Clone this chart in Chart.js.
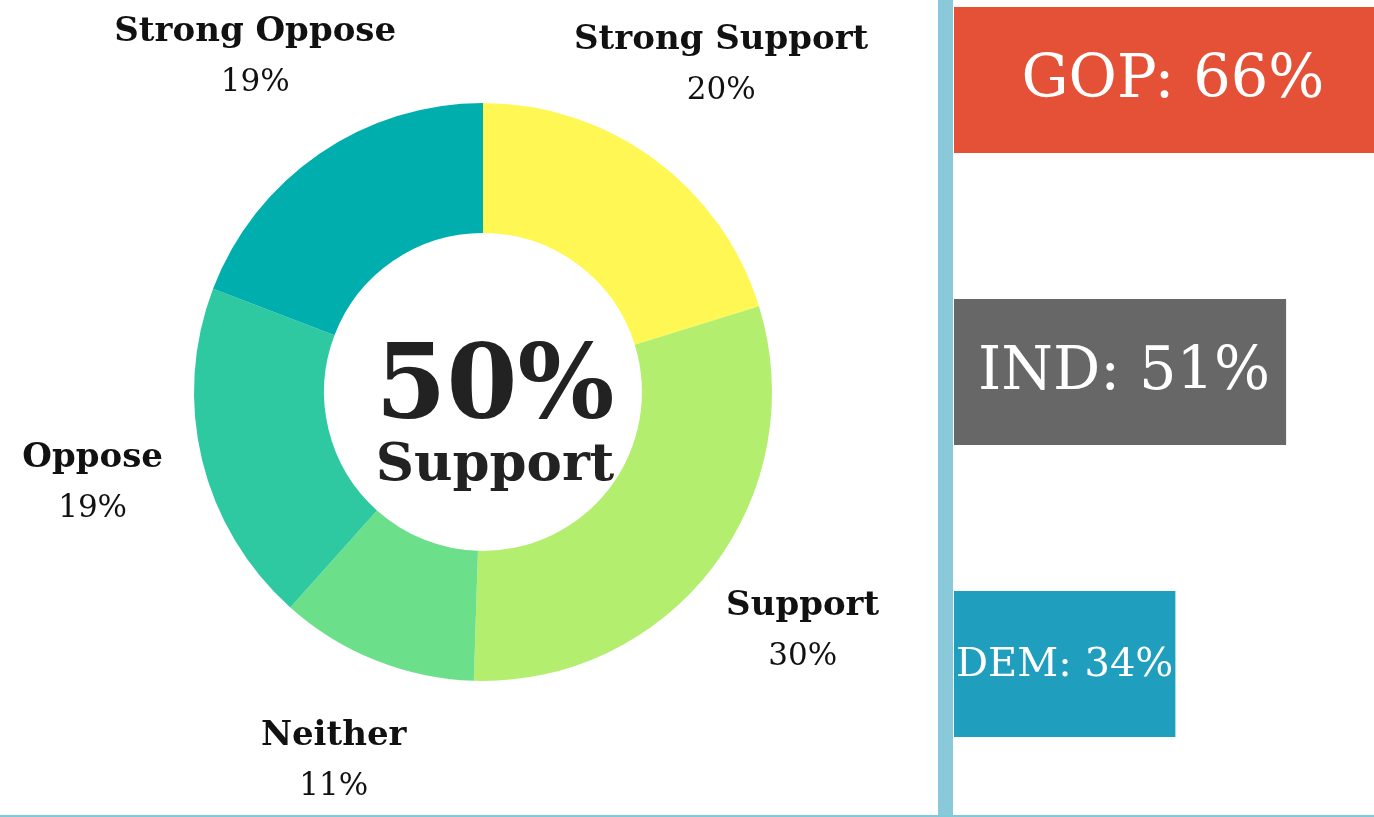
<!DOCTYPE html>
<html>
<head>
<meta charset="utf-8">
<script src="https://cdn.jsdelivr.net/npm/chart.js@4/dist/chart.umd.min.js"></script>
<style>
  html, body { margin: 0; padding: 0; background: #fff; overflow: hidden; }
  body { width: 1374px; height: 817px; position: relative; }
  #donutBox { position: absolute; left: 0; top: 0; width: 938px; height: 817px; }
  #barBox { position: absolute; left: 954px; top: -66px; width: 420px; height: 876px; }
  #divider { position: absolute; left: 938px; top: 0; width: 15px; height: 817px; background: #89c9da; }
  #baseline { position: absolute; left: 0; top: 815px; width: 1374px; height: 2px; background: #7ecadb; }
</style>
</head>
<body>
<div id="donutBox"><canvas id="donutChart" width="938" height="817"></canvas></div>
<div id="divider"></div>
<div id="barBox"><canvas id="partyChart" width="420" height="876"></canvas></div>
<div id="baseline"></div>
<script>
// 찬반 응답
var answerLabels = ['Strong Support', 'Support', 'Neither', 'Oppose', 'Strong Oppose'];
var answerValues = [20, 30, 11, 19, 19];
var answerColors = ['#fff854', '#b3ee6e', '#6cdf8b', '#2fc9a1', '#00afad'];

// 정당별 지지율
var partyLabels = ['GOP', 'IND', 'DEM'];
var partyValues = [66, 51, 34];
var partyColors = ['#e55137', '#676767', '#209ebd'];

var serif = '"DejaVu Serif", serif';

var donutText = {
    id: 'donutText',
    afterDraw: function(chart) {
        var ctx = chart.ctx;
        var arcs = chart.getDatasetMeta(0).data;
        ctx.save();
        ctx.textAlign = 'center';
        ctx.textBaseline = 'alphabetic';
        arcs.forEach(function(arc, i) {
            var p = arc.getProps(['x', 'y', 'startAngle', 'endAngle', 'outerRadius'], true);
            var mid = (p.startAngle + p.endAngle) / 2;
            var r = p.outerRadius * 1.39;
            var cx = p.x + Math.cos(mid) * r;
            var cy = p.y + Math.sin(mid) * r;
            ctx.fillStyle = '#111';
            ctx.font = 'bold 34px ' + serif;
            ctx.fillText(answerLabels[i], cx, cy - 20);
            ctx.font = '31px ' + serif;
            ctx.fillText(answerValues[i] + '%', cx, cy + 30);
        });
        // 가운데 합계
        var c = arcs[0].getProps(['x', 'y'], true);
        var support = answerValues[0] + answerValues[1];
        ctx.fillStyle = '#222';
        ctx.font = 'bold 102px ' + serif;
        ctx.fillText(support + '%', c.x + 12, c.y + 26);
        ctx.font = 'bold 53px ' + serif;
        ctx.fillText('Support', c.x + 12, c.y + 88);
        ctx.restore();
    }
};

var barText = {
    id: 'barText',
    afterDatasetsDraw: function(chart) {
        var ctx = chart.ctx;
        var bars = chart.getDatasetMeta(0).data;
        ctx.save();
        ctx.fillStyle = '#fff';
        ctx.textAlign = 'center';
        ctx.textBaseline = 'middle';
        bars.forEach(function(bar, i) {
            var p = bar.getProps(['x', 'y', 'base'], true);
            var text = partyLabels[i] + ': ' + partyValues[i] + '%';
            var size = 59;
            var shift = 4;
            ctx.font = size + 'px ' + serif;
            var w = ctx.measureText(text).width;
            var room = Math.min(p.x, chart.chartArea.right) - p.base - 4;
            if (w > room) {
                size = Math.floor(size * room / w);
                ctx.font = size + 'px ' + serif;
                shift = 0;
            }
            ctx.fillText(text, (p.base + p.x) / 2 + shift, p.y + 2);
        });
        ctx.restore();
    }
};

new Chart(document.getElementById('donutChart').getContext('2d'), {
    type: 'doughnut',
    data: {
        labels: answerLabels,
        datasets: [{
            data: answerValues,
            backgroundColor: answerColors,
            borderWidth: 0
        }]
    },
    options: {
        responsive: false,
        animation: false,
        cutout: '55%',
        layout: { padding: { top: 103, bottom: 136, left: 120, right: 92 } },
        plugins: { legend: { display: false }, tooltip: { enabled: false } }
    },
    plugins: [donutText]
});

new Chart(document.getElementById('partyChart').getContext('2d'), {
    type: 'bar',
    data: {
        labels: partyLabels,
        datasets: [{
            data: partyValues,
            backgroundColor: partyColors,
            borderWidth: 0,
            categoryPercentage: 1,
            barPercentage: 0.5
        }]
    },
    options: {
        indexAxis: 'y',
        responsive: false,
        animation: false,
        layout: { padding: 0 },
        scales: {
            x: { display: false, min: 0, max: 64.5 },
            y: { display: false }
        },
        plugins: { legend: { display: false }, tooltip: { enabled: false } }
    },
    plugins: [barText]
});
</script>
</body>
</html>
